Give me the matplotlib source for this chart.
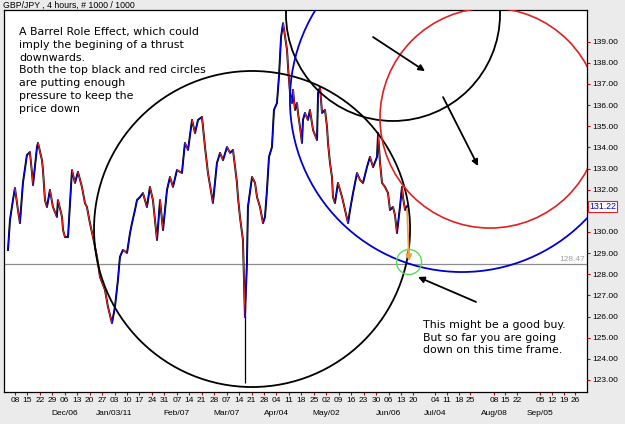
import matplotlib
matplotlib.use('Agg')
import matplotlib.pyplot as plt
from matplotlib.patches import Ellipse
from matplotlib.collections import LineCollection
import matplotlib.transforms as mtransforms
import numpy as np

# ---------------- data ----------------
weeks = [
    -0.56, -0.40, -0.16, 0.00, 0.24, 0.40, 0.64, 0.96, 1.20, 1.37, 1.45, 1.77, 1.85, 2.17, 2.25,
    2.41, 2.57, 2.81, 3.05, 3.37, 3.45, 3.78, 3.86, 4.02, 4.26, 4.58, 4.82, 5.06, 5.38, 5.62,
    5.78, 6.02, 6.27, 6.59, 6.83, 7.23, 7.47, 7.79, 8.03, 8.27, 8.43, 8.67, 9.00, 9.24, 9.40,
    9.64, 9.80, 10.04, 10.28, 10.60, 10.84,
    11.08, 11.41, 11.65, 11.89, 12.21, 12.45, 12.69, 13.01, 13.41, 13.65, 13.90, 14.22, 14.46,
    14.70, 15.02, 15.26, 15.50, 15.82, 15.90, 16.22, 16.47, 16.71, 17.03, 17.27, 17.51, 17.83,
    17.91, 18.07, 18.31, 18.47, 18.63, 18.71, 19.04, 19.28, 19.44, 19.68, 19.92, 20.08, 20.24,
    20.40, 20.64, 20.80, 21.04, 21.20, 21.37, 21.53,
    21.85, 21.93, 22.09, 22.25, 22.33, 22.49, 22.65, 22.73, 22.89, 23.05, 23.13, 23.29, 23.53,
    23.69, 23.94, 24.26, 24.34, 24.50, 24.66, 24.90, 25.06, 25.14, 25.30, 25.46, 25.54, 25.70,
    25.94, 26.27, 26.51, 26.75, 26.91, 27.15, 27.47, 27.71, 27.95, 28.27, 28.51, 28.76, 29.08,
    29.16, 29.32, 29.48, 29.72, 29.96, 30.12, 30.36, 30.52, 30.68, 30.92, 31.08, 31.16, 31.33,
    31.49]
prices = [
    129.15, 130.57, 131.51, 132.08, 131.04, 130.42, 132.32, 133.64, 133.78, 132.79, 132.22,
    134.02, 134.21, 133.40, 132.93, 131.51, 131.18, 131.99, 131.18, 130.71, 131.51, 130.71,
    130.09, 129.76, 129.76, 132.93, 132.32, 132.84, 132.13, 131.37, 131.18, 130.42, 129.76,
    128.82, 127.87, 127.26, 126.45, 125.69, 126.45, 127.73, 128.82, 129.15, 129.01, 129.95,
    130.42, 131.04, 131.51, 131.65, 131.84, 131.18, 132.13,
    131.51, 129.62, 131.51, 130.09, 131.99, 132.60, 132.13, 132.93, 132.79, 134.21, 133.88,
    135.30, 134.68, 135.30, 135.44, 134.02, 132.79, 131.65, 131.37, 133.26, 133.74, 133.40,
    134.02, 133.74, 133.88, 132.32, 131.65, 130.71, 129.62, 125.98, 128.53, 131.18, 132.60,
    132.32, 131.65, 131.18, 130.42, 130.71, 131.99, 133.55, 134.02, 135.77, 136.10, 137.33,
    139.22, 139.88,
    138.61, 137.80, 136.57, 136.10, 136.72, 135.77, 136.10, 135.63, 134.97, 134.21, 135.30,
    135.63, 135.30, 135.77, 134.82, 134.35, 136.57, 136.86, 135.63, 135.77, 134.97, 134.21,
    133.26, 132.60, 131.65, 131.37, 132.32, 131.65, 131.04, 130.42, 131.04, 131.84, 132.79,
    132.46, 132.32, 133.07, 133.55, 133.07, 133.55, 134.68, 133.26, 132.32, 132.13, 131.84,
    131.04, 131.18, 130.80, 129.95, 131.18, 132.13, 131.65, 131.04, 131.22]
crash_week = 18.47
crash_low = 122.86
last_price = 131.22
level_line = 128.47

day_labels = ['08', '15', '22', '29', '06', '13', '20', '27', '03', '10', '17', '24', '31',
              '07', '14', '21', '28', '07', '14', '21', '28', '04', '11', '18', '25',
              '02', '09', '16', '23', '30', '06', '13', '20',
              '04', '11', '18', '25', '08', '15', '22', '05', '12', '19', '26']
day_pos = list(range(33)) + [33.73, 34.70, 35.66, 36.55, 38.47, 39.36, 40.32,
                             42.17, 43.13, 44.10, 44.98]
month_labels = ['Dec/06', 'Jan/03/11', 'Feb/07', 'Mar/07', 'Apr/04', 'May/02',
                'Jun/06', 'Jul/04', 'Aug/08', 'Sep/05']
month_pos = [4, 8, 13, 17, 21, 25, 30, 33.73, 38.47, 42.17]
y_ticks = list(range(123, 140))

# circles: (center week, center price, width weeks, height price, colour, lw)
circles = [
    (19.04, 130.14, 25.38, 14.95, '#000000', 1.3),
    (30.36, 140.31, 17.19, 10.12, '#000000', 1.3),
    (38.15, 135.39, 17.67, 10.41, '#e02020', 1.2),
    (35.90, 136.24, 27.63, 16.27, '#0000d0', 1.3),
    (31.65, 128.58, 2.01, 1.18, '#55dd55', 1.0),
]
# arrows: (from week, from price, to week, to price, colour)
arrows = [
    (28.76, 139.22, 32.93, 137.61, '#000000'),
    (34.38, 136.38, 37.19, 133.12, '#000000'),
    (37.03, 126.69, 32.37, 127.87, '#000000'),
    (31.49, 131.10, 31.65, 128.62, '#f0a040'),
]

note1 = ("A Barrel Role Effect, which could\nimply the begining of a thrust\n"
         "downwards.\nBoth the top black and red circles\nare putting enough\n"
         "pressure to keep the\nprice down")
note2 = "This might be a good buy.\nBut so far you are going\ndown on this time frame."
title = "GBP/JPY , 4 hours, # 1000 / 1000"

# ---------------- figure ----------------
W, H = 625, 424
fig = plt.figure(figsize=(W / 100, H / 100), dpi=100, facecolor='#ebebeb')
ax = fig.add_axes([4 / W, (H - 392) / H, (587 - 4) / W, (392 - 10) / H])
ax.set_facecolor('white')
ax.set_xlim(-0.88, 45.94)
ax.set_ylim(122.43, 140.50)
for s in ax.spines.values():
    s.set_color('black')
    s.set_linewidth(0.9)

# level line
ax.axhline(level_line, color='#8c8c8c', lw=0.9, zorder=1)
blend = mtransforms.blended_transform_factory(ax.transAxes, ax.transData)
ax.text(0.997, level_line + 0.05, f'{level_line:.2f}', transform=blend, ha='right',
        va='bottom', fontsize=6, color='#a0a0a0', family='Liberation Sans')

# price path
x = np.array(weeks)
y = np.array(prices)
ax.plot(x, y, color='black', lw=1.4, zorder=2)
ax.vlines([crash_week], crash_low, y[weeks.index(crash_week)] + 0.5, color='black', lw=0.9, zorder=2)
segs = np.stack([np.column_stack([x[:-1], y[:-1]]), np.column_stack([x[1:], y[1:]])], axis=1)
cols = ['#0000ff' if b >= a else '#ff2020' for a, b in zip(y[:-1], y[1:])]
ax.add_collection(LineCollection(segs, colors=cols, linewidths=0.8, zorder=3))

# circles
for cx, cy, w, h, c, lw in circles:
    ax.add_patch(Ellipse((cx, cy), w, h, fill=False, edgecolor=c, lw=lw, zorder=4))

# arrows
for x0, y0, x1, y1, c in arrows:
    ax.annotate('', xy=(x1, y1), xytext=(x0, y0),
                arrowprops=dict(arrowstyle='-|>', color=c, lw=1.3,
                                mutation_scale=9, shrinkA=0, shrinkB=0), zorder=5)

# notes
ax.text(0.0257, 0.955, note1, transform=ax.transAxes, ha='left', va='top',
        fontsize=7.9, family='DejaVu Sans', linespacing=1.34, color='black')
ax.text(0.7187, 0.189, note2, transform=ax.transAxes, ha='left', va='top',
        fontsize=7.9, family='DejaVu Sans', linespacing=1.34, color='black')

# x ticks
ax.set_xticks(day_pos)
ax.set_xticklabels(day_labels, fontsize=6, family='Liberation Sans')
ax.tick_params(axis='x', length=2, width=0.8, color='#cc0000', pad=1.5)
xblend = mtransforms.blended_transform_factory(ax.transData, ax.transAxes)
for p, lab in zip(month_pos, month_labels):
    ax.text(p, -0.055, lab, transform=xblend, ha='center', va='center', fontsize=6,
            family='Liberation Sans')

# y ticks
ax.yaxis.tick_right()
ax.set_yticks(y_ticks)
ax.set_yticklabels([f'{v:.2f}' for v in y_ticks], fontsize=6, family='Liberation Sans')
ax.tick_params(axis='y', length=2.5, width=0.8, color='#cc0000', pad=1)

# current price
ax.text(1.004, last_price, f'{last_price:.2f}', transform=blend, ha='left', va='center',
        fontsize=6.3, color='#0000cc', family='Liberation Sans', clip_on=False, zorder=10,
        bbox=dict(facecolor='white', edgecolor='#e02020', lw=0.8, pad=0.8))

fig.text(3 / W, 1 - 5 / H, title, ha='left', va='center', fontsize=6.3,
         family='Liberation Sans', color='black')

fig.savefig('out.png', dpi=100, facecolor=fig.get_facecolor())
